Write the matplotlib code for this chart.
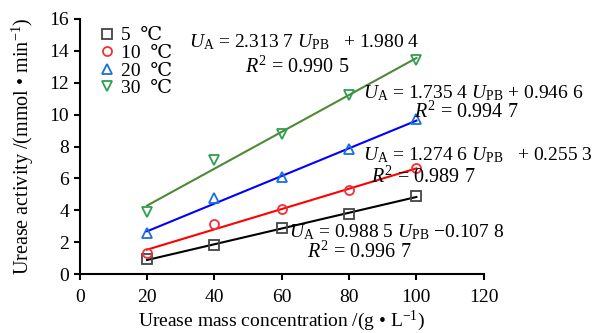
import numpy as np
import matplotlib.pyplot as plt

plt.rcParams['font.family'] = ['Liberation Serif', 'DejaVu Serif']
plt.rcParams['mathtext.fontset'] = 'custom'
plt.rcParams['mathtext.rm'] = 'Liberation Serif'
plt.rcParams['mathtext.it'] = 'Liberation Serif:italic'

conc = [20, 40, 60, 80, 100]
labels = ["5  ℃", "10  ℃", "20  ℃", "30  ℃"]
u5 = [0.95, 1.8, 2.9, 3.75, 4.9]
u10 = [1.35, 3.15, 4.05, 5.25, 6.65]
u20 = [2.55, 4.75, 6.1, 7.85, 9.7]
u30 = [3.9, 7.15, 8.8, 11.25, 13.4]
slopes = [0.9885, 1.2746, 1.7354, 2.3137]
intercepts = [-0.1078, 0.2553, 0.9466, 1.9804]
eq_text = [r"$U_{\rm A}$ = 0.988 5 $U_{\rm PB}$ $-$0.107 8",
           r"$U_{\rm A}$ = 1.274 6 $U_{\rm PB}$   + 0.255 3",
           r"$U_{\rm A}$ = 1.735 4 $U_{\rm PB}$ + 0.946 6",
           r"$U_{\rm A}$ = 2.313 7 $U_{\rm PB}$   + 1.980 4"]
r2_text = [r"$R^2$ = 0.996 7", r"$R^2$ = 0.989 7", r"$R^2$ = 0.994 7", r"$R^2$ = 0.990 5"]

marker_col = ['#444444', '#f0303a', '#1a6fe0', '#2e9e50']
line_col = ['black', 'red', 'blue', '#4d8a35']
markers = ['s', 'o', '^', 'v']

fig = plt.figure(figsize=(5.95, 3.33), dpi=100)
ax = fig.add_axes([0.134, 0.177, 0.679, 0.766])

x = np.array(conc)
xi = x / 20.0
for k, u in enumerate([u5, u10, u20, u30]):
    ax.plot(x, xi * slopes[k] + intercepts[k], color=line_col[k], lw=1.5, zorder=2)
    ax.plot(x, u, ls='none', marker=markers[k], ms=6.5, mfc='none', mec=marker_col[k],
            mew=1.3, label=labels[k], zorder=3)

# equation positions
eq_pos = [(62.3, 2.65), (84, 7.45), (84, 11.35), (32.6, 14.55)]
r2_pos = [(67.4, 1.4), (86.6, 6.1), (99.4, 10.15), (49, 13.0)]
for k in range(4):
    ax.text(eq_pos[k][0], eq_pos[k][1], eq_text[k], fontsize=14, va='center', ha='left')
    ax.text(r2_pos[k][0], r2_pos[k][1], r2_text[k], fontsize=14.5, va='center', ha='left')

ax.set_xlim(0, 120)
ax.set_ylim(0, 16)
ax.set_xticks(range(0, 121, 20))
ax.set_yticks(range(0, 17, 2))
ax.spines['top'].set_visible(False)
ax.spines['right'].set_visible(False)
ax.spines['left'].set_linewidth(1.5)
ax.spines['bottom'].set_linewidth(1.5)
ax.tick_params(direction='out', length=4, width=1.5, labelsize=14)
ax.tick_params(axis='x', pad=7)
ax.set_xlabel("Urease mass concentration /(g • L$^{-1}$)", fontsize=14, labelpad=2)
ax.set_ylabel("Urease activity /(mmol • min$^{-1}$)", fontsize=14.5, labelpad=10)

ax.legend(loc='upper left', bbox_to_anchor=(0.035, 1.0), frameon=False, fontsize=14,
          handlelength=0.6, handletextpad=0.4, labelspacing=0.0, borderaxespad=0)

fig.savefig('out.png', dpi=100)
